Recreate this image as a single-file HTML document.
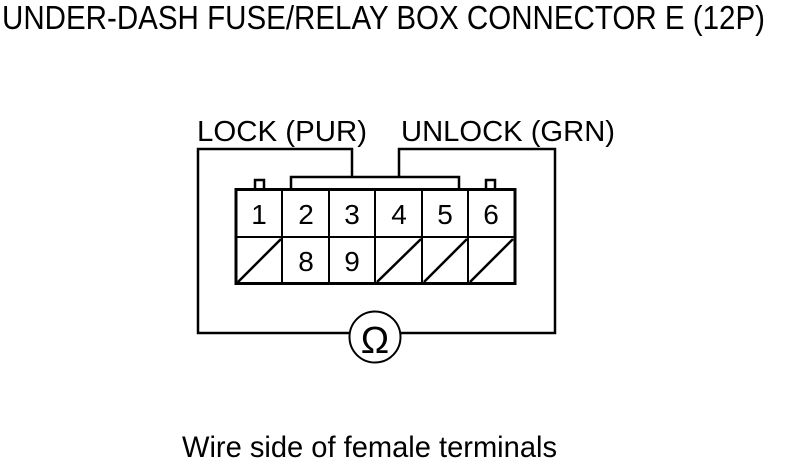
<!DOCTYPE html>
<html><head><style>html,body{margin:0;padding:0;background:#fff;}svg{display:block}</style></head>
<body>
<svg width="800" height="474" viewBox="0 0 800 474" xmlns="http://www.w3.org/2000/svg" font-family="Liberation Sans, Arial, sans-serif">
<text x="2" y="29" font-size="33" textLength="763" lengthAdjust="spacingAndGlyphs">UNDER-DASH FUSE/RELAY BOX CONNECTOR E (12P)</text>
<text x="197" y="141" font-size="29" textLength="170" lengthAdjust="spacingAndGlyphs">LOCK (PUR)</text>
<text x="401" y="141" font-size="29" textLength="214" lengthAdjust="spacingAndGlyphs">UNLOCK (GRN)</text>
<g fill="none" stroke="#000" stroke-width="2.5">
<polyline points="352,176 352,149 198,149 198,333 350,333"/>
<polyline points="399,176 399,149 555,149 555,333 400,333"/>
<circle cx="375" cy="337" r="25.5" stroke-width="2"/>
<polyline points="291,189 291,177 459,177 459,189"/>
<polyline points="255,189 255,180 264,180 264,189"/>
<polyline points="486,189 486,180 495,180 495,189"/>
</g>
<rect x="236" y="189.5" width="279" height="94" fill="none" stroke="#000" stroke-width="3"/>
<g stroke="#000" stroke-width="2">
<line x1="236" y1="237" x2="515" y2="237"/>
<line x1="282" y1="189" x2="282" y2="284"/>
<line x1="329" y1="189" x2="329" y2="284"/>
<line x1="375" y1="189" x2="375" y2="284"/>
<line x1="422" y1="189" x2="422" y2="284"/>
<line x1="468" y1="189" x2="468" y2="284"/>
<line x1="238" y1="282" x2="281" y2="239" stroke-width="2.5"/>
<line x1="377" y1="282" x2="421" y2="239" stroke-width="2.5"/>
<line x1="424" y1="282" x2="467" y2="239" stroke-width="2.5"/>
<line x1="470" y1="282" x2="513" y2="239" stroke-width="2.5"/>
</g>
<g font-size="28" text-anchor="middle">
<text x="259" y="224">1</text><text x="306" y="224">2</text><text x="352" y="224">3</text>
<text x="399" y="224">4</text><text x="445" y="224">5</text><text x="491" y="224">6</text>
<text x="306" y="271">8</text><text x="352" y="271">9</text>
</g>
<text x="375" y="353" font-size="38" text-anchor="middle">Ω</text>
<text x="182" y="457" font-size="30" textLength="375" lengthAdjust="spacingAndGlyphs">Wire side of female terminals</text>
</svg>
</body></html>
